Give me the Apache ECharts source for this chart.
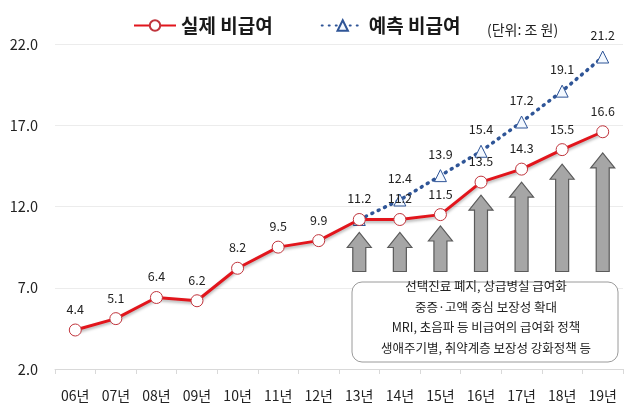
<!DOCTYPE html>
<html><head><meta charset="utf-8">
<script src="https://cdn.jsdelivr.net/npm/echarts@6/dist/echarts.min.js"></script>
<style>html,body{margin:0;padding:0;background:#fff}#c{width:640px;height:420px}</style>
</head><body><div id="c"></div>
<script>
var categories = ['06년','07년','08년','09년','10년','11년','12년','13년','14년','15년','16년','17년','18년','19년'];
var actual = [4.4,5.1,6.4,6.2,8.2,9.5,9.9,11.2,11.2,11.5,13.5,14.3,15.5,16.6];
var predicted = [null,null,null,null,null,null,null,11.2,12.4,13.9,15.4,17.2,19.1,21.2];
var arrowTop = [null,null,null,null,null,null,null,10.4,10.4,10.8,12.7,13.5,14.6,15.3];
var arrowBase = 8.0;
var yTicks = [2,22,5];
var boxLines = ['선택진료 폐지, 상급병실 급여화','중증·고액 중심 보장성 확대','MRI, 초음파 등 비급여의 급여화 정책','생애주기별, 취약계층 보장성 강화정책 등'];

var FONT = "'Noto Sans CJK KR', 'Noto Sans', sans-serif";
var chart = echarts.init(document.getElementById('c'));

var arrowData = [];
arrowTop.forEach(function(v,i){ if(v!=null) arrowData.push([i, arrowBase, v]); });

var boxTexts = boxLines.map(function(t,i){
  return {type:'text', x:486, y:280+i*20.5, z:6,
    style:{text:t, font:'12.5px '+FONT, fill:'#222', textAlign:'center'}};
});

chart.setOption({
  animation:false,
  textStyle:{fontFamily:FONT},
  grid:{left:55, right:17, top:44, bottom:51},
  legend:{
    left:128, top:11, itemGap:48, itemWidth:42, itemHeight:13,
    textStyle:{fontSize:19, fontWeight:'bold', color:'#1a1a1a', fontFamily:FONT},
    data:['실제 비급여','예측 비급여']
  },
  xAxis:{
    type:'category', data:categories, boundaryGap:true,
    axisLine:{lineStyle:{color:'#d9d9d9'}},
    axisTick:{show:true, lineStyle:{color:'#d9d9d9'}, length:5},
    axisLabel:{color:'#222', fontSize:14, margin:20, fontFamily:FONT}
  },
  yAxis:{
    type:'value', min:yTicks[0], max:yTicks[1], interval:yTicks[2],
    axisLine:{show:false}, axisTick:{show:false},
    axisLabel:{color:'#222', fontSize:14.5, margin:17, formatter:function(v){return v.toFixed(1);}},
    splitLine:{lineStyle:{color:'#ececec'}}
  },
  graphic:[
    {type:'text', x:487, y:23, style:{text:'(단위: 조 원)', font:'14px '+FONT, fill:'#222'}},
    {type:'rect', shape:{x:352, y:282, width:266, height:80, r:10}, style:{fill:'#fff', stroke:'#9a9a9a', lineWidth:1}, z:5}
  ].concat(boxTexts),
  series:[
    {
      name:'arrows', type:'custom', z:1, data:arrowData, silent:true,
      renderItem:function(params, api){
        var x = api.coord([api.value(0), api.value(1)])[0];
        var yb = api.coord([api.value(0), api.value(1)])[1];
        var yt = api.coord([api.value(0), api.value(2)])[1];
        var sw = 6.5, hw = 12, hh = 15;
        return {type:'polygon', shape:{points:[
          [x-sw,yb],[x-sw,yt+hh],[x-hw,yt+hh],[x,yt],[x+hw,yt+hh],[x+sw,yt+hh],[x+sw,yb]
        ]}, style:{fill:'#a6a6a6', stroke:'#5a5a5a', lineWidth:1.2}};
      }
    },
    {
      name:'예측 비급여', type:'line', data:predicted, z:3,
      symbol:'triangle', symbolSize:12,
      lineStyle:{color:'#2f5597', width:3.5, type:[1,6], cap:'round'},
      itemStyle:{color:'#f4f9ff', borderColor:'#2f5597', borderWidth:1},
      label:{show:true, position:'top', distance:9, color:'#222', fontSize:12.5,
        formatter:function(p){ return p.dataIndex===7 ? '' : p.value.toFixed(1); }}
    },
    {
      name:'실제 비급여', type:'line', data:actual, z:4,
      symbol:'circle', symbolSize:12,
      lineStyle:{color:'#e2151c', width:3, shadowColor:'rgba(0,0,0,0.3)', shadowBlur:3, shadowOffsetY:2},
      itemStyle:{color:'#fff', borderColor:'#c0343c', borderWidth:1},
      label:{show:true, position:'top', distance:8, color:'#222', fontSize:12.5,
        formatter:function(p){ return p.value.toFixed(1); }}
    }
  ]
});
</script></body></html>
